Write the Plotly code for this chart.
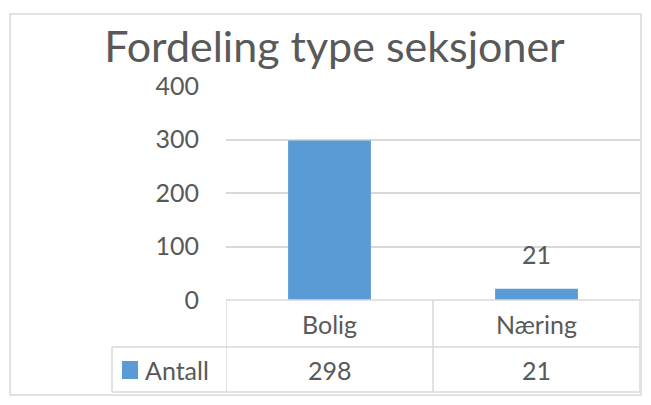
import plotly.graph_objects as go

# Chart data
categories = ["Bolig", "Næring"]
values = [298, 21]
series_name = "Antall"
title_text = "Fordeling type seksjoner"
y_ticks = [0, 100, 200, 300, 400]

W, H = 651, 405
L, R, T, B = 226, 11, 86, 105
plot_w = W - L - R
plot_h = H - T - B

BAR = "#5B9BD5"
TXT = "#595959"
GRID = "#D9D9D9"
FONT = "Lato, Carlito, Calibri, sans-serif"


def px_x(px):
    """pixel x -> paper x"""
    return (px - L) / plot_w


def px_y(py):
    """pixel y -> paper y"""
    return (H - B - py) / plot_h


fig = go.Figure()
fig.add_trace(go.Bar(
    x=list(range(len(categories))), y=values, name=series_name,
    marker=dict(color=BAR, line=dict(width=0)), width=0.4,
    hoverinfo="skip",
))

shapes = []
annotations = []

# outer chart frame
shapes.append(dict(type="rect", xref="paper", yref="paper",
                   x0=px_x(10), x1=px_x(641), y0=px_y(395), y1=px_y(14),
                   line=dict(color=GRID, width=1.5), layer="below"))

# data table grid below the plot
row1_y = px_y(347)
bottom_y = px_y(392)
legend_left = px_x(112)
n = len(categories)
# horizontal lines
shapes.append(dict(type="line", xref="x", yref="paper", x0=-0.5, x1=n - 0.5,
                   y0=0, y1=0, line=dict(color=GRID, width=1.5)))
for yy in (row1_y, bottom_y):
    shapes.append(dict(type="line", xref="paper", yref="paper", x0=legend_left, x1=1,
                       y0=yy, y1=yy, line=dict(color=GRID, width=1.5)))
# vertical lines at category boundaries
for i in range(n + 1):
    shapes.append(dict(type="line", xref="x", yref="paper", x0=i - 0.5, x1=i - 0.5,
                       y0=0, y1=bottom_y, line=dict(color=GRID, width=1.5)))
shapes.append(dict(type="line", xref="paper", yref="paper", x0=legend_left, x1=legend_left,
                   y0=row1_y, y1=bottom_y, line=dict(color=GRID, width=1.5)))

cell_font = dict(family=FONT, size=25, color=TXT)

# category names and values in the table
for i, (cat, v) in enumerate(zip(categories, values)):
    annotations.append(dict(x=i, y=(0 + row1_y) / 2, xref="x", yref="paper", text=cat,
                            showarrow=False, xanchor="center", yanchor="middle",
                            font=cell_font))
    annotations.append(dict(x=i, y=(row1_y + bottom_y) / 2, xref="x", yref="paper",
                            text=str(v), showarrow=False, xanchor="center",
                            yanchor="middle", font=cell_font))

# legend key in the table
shapes.append(dict(type="rect", xref="paper", yref="paper",
                   x0=px_x(122), x1=px_x(138), y0=px_y(379), y1=px_y(361),
                   fillcolor=BAR, line=dict(width=0)))
annotations.append(dict(x=px_x(143), y=(row1_y + bottom_y) / 2, xref="paper", yref="paper",
                        text=series_name, showarrow=False, xanchor="left",
                        yanchor="middle", font=cell_font))

# data label on the smaller bar
annotations.append(dict(x=1, y=values[1], xref="x", yref="y", text=str(values[1]),
                        showarrow=False, xanchor="center", yanchor="bottom", yshift=18,
                        font=cell_font))

fig.update_layout(
    width=W, height=H,
    margin=dict(l=L, r=R, t=T, b=B, pad=0),
    paper_bgcolor="white", plot_bgcolor="white",
    showlegend=False,
    title=dict(text=title_text, x=334.5 / W, xanchor="center",
               y=1 - 47 / H, yanchor="middle",
               font=dict(family=FONT, size=43, color=TXT)),
    xaxis=dict(range=[-0.5, n - 0.5], showticklabels=False, showgrid=False,
               zeroline=False, showline=False, fixedrange=True),
    yaxis=dict(range=[0, 400], tickvals=y_ticks, showgrid=True, gridcolor=GRID,
               gridwidth=1.5, zeroline=False, showline=False, ticks="",
               ticklabelstandoff=26,
               tickfont=dict(family=FONT, size=25, color=TXT), fixedrange=True),
    shapes=shapes, annotations=annotations,
)

fig.write_html("out.html")
